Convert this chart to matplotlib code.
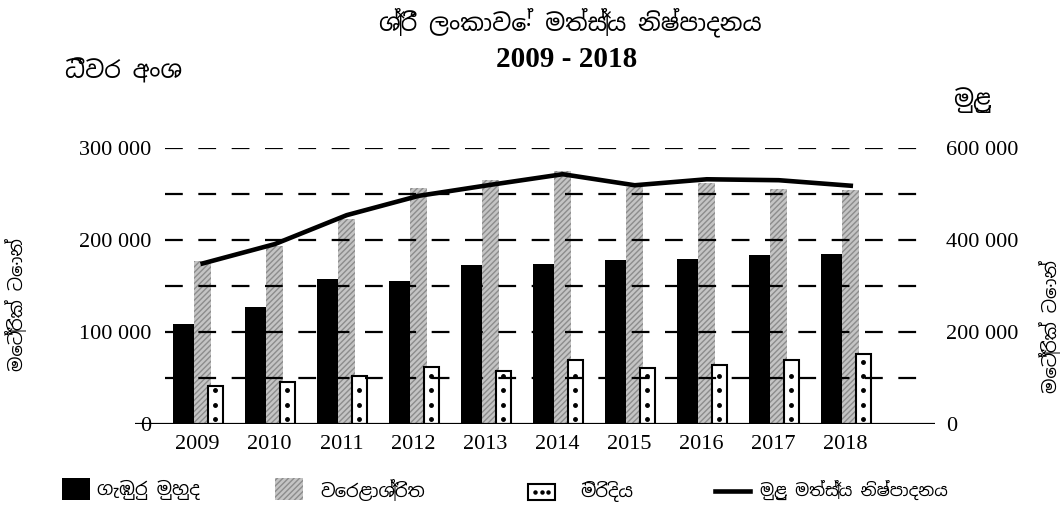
import matplotlib
matplotlib.use("Agg")
import matplotlib.pyplot as plt
from matplotlib.patches import Rectangle
from matplotlib.lines import Line2D
import numpy as np

# දත්ත (මෙට්‍රික් ටොන්)
years = ["2009", "2010", "2011", "2012", "2013", "2014", "2015", "2016", "2017", "2018"]
deep_sea = [109000, 127000, 158000, 155000, 173000, 174000, 178000, 179000, 184000, 185000]
coastal = [177000, 194000, 223000, 257000, 265000, 275000, 258000, 262000, 255000, 254000]
inland = [41000, 46000, 52000, 62000, 58000, 70000, 61000, 64000, 70000, 76000]
total = [349000, 391000, 454000, 496000, 520000, 543000, 519000, 532000, 530000, 518000]

left_ticks = [0, 100000, 200000, 300000]
right_ticks = [0, 200000, 400000, 600000]

SIN = ["Noto Sans Sinhala", "Noto Serif Sinhala", "DejaVu Sans"]
NUM = "Liberation Serif"

fig = plt.figure(figsize=(10.64, 5.07), dpi=100)
W, H = 1064, 507
ax = fig.add_axes([135 / W, 1 - 424 / H, 800 / W, 276 / H])

x = np.arange(len(years))
ax.bar(x - 0.264, deep_sea, width=0.29, color="black", zorder=2)
ax.bar(x, coastal, width=0.236, color="#c4c4c4", edgecolor="#8c8c8c",
       linewidth=0, hatch="//////", zorder=2)
ax.bar(x + 0.174, inland, width=0.21, color="white", edgecolor="black",
       linewidth=1.5, zorder=3)
# මිරිදිය තීරු තුළ තිත්
for xi, v in zip(x, inland):
    dots = np.arange(5500, v - 3000, 15500)
    ax.plot(np.full(len(dots), xi + 0.174), dots, "o", color="black", ms=2.5, zorder=4)

# කඩ ඉරි
for g in range(50000, 300001, 50000):
    ax.hlines(g, -0.52, 10.06, colors="black", linewidth=1.6,
              linestyles=(0, (8, 7)), zorder=3.5)
ax.hlines(0, -0.94, 10.17, colors="black", linewidth=1.6, zorder=5)

ax.set_xlim(-0.94, 10.17)
ax.set_ylim(0, 300000)
for s in ax.spines.values():
    s.set_visible(False)
ax.set_xticks(x - 0.07)
ax.set_xticklabels(years, fontfamily=NUM, fontsize=16)
ax.set_yticks(left_ticks)
ax.set_yticklabels([f"{v:,}".replace(",", " ") for v in left_ticks], fontfamily=NUM, fontsize=16)
ax.tick_params(length=0, axis="y", pad=-12)
ax.tick_params(length=0, axis="x", pad=8)

ax2 = ax.twinx()
ax2.set_ylim(0, 600000)
ax2.plot(x, total, color="black", linewidth=3.3, zorder=6)
for s in ax2.spines.values():
    s.set_visible(False)
ax2.set_yticks(right_ticks)
ax2.set_yticklabels([f"{v:,}".replace(",", " ") for v in right_ticks], fontfamily=NUM, fontsize=16)
ax2.tick_params(length=0, pad=8)

# මාතෘකා
fig.text(570 / W, 1 - 22 / H, "ශ්‍රී ලංකාවේ මත්ස්‍ය නිෂ්පාදනය", family=SIN, fontsize=17,
         ha="center", va="center")
fig.text(567 / W, 1 - 60 / H, "2009 - 2018", family=NUM, fontsize=21, weight="bold",
         ha="center", va="center")
fig.text(65 / W, 1 - 72 / H, "ධීවර අංශ", family=SIN, fontsize=17, ha="left", va="center")
fig.text(972 / W, 1 - 100 / H, "මුළු", family=SIN, fontsize=17, ha="center", va="center")
fig.text(16 / W, 1 - 305 / H, "මෙට්‍රික් ටොන්", family=SIN, fontsize=13, rotation=90,
         ha="center", va="center")
fig.text(1050 / W, 1 - 327 / H, "මෙට්‍රික් ටොන්", family=SIN, fontsize=13, rotation=90,
         ha="center", va="center")

# සංකේත
fig.add_artist(Rectangle((62 / W, 1 - 500 / H), 28 / W, 22 / H, transform=fig.transFigure,
                         facecolor="black"))
fig.add_artist(Rectangle((275 / W, 1 - 500 / H), 28 / W, 22 / H, transform=fig.transFigure,
                         facecolor="#c4c4c4", edgecolor="#8c8c8c", linewidth=0, hatch="//////"))
fig.add_artist(Rectangle((528 / W, 1 - 500 / H), 27 / W, 16 / H, transform=fig.transFigure,
                         facecolor="white", edgecolor="black", linewidth=1.5))
for dx in (535, 541.5, 548):
    fig.add_artist(Line2D([dx / W], [1 - 492 / H], transform=fig.transFigure,
                          marker="o", ms=2.2, color="black"))
fig.add_artist(Line2D([715 / W, 750 / W], [1 - 491 / H, 1 - 491 / H],
                      transform=fig.transFigure, color="black", linewidth=3.3))
fig.text(97 / W, 1 - 490 / H, "ගැඹුරු මුහුද", family=SIN, fontsize=13, va="center")
fig.text(320 / W, 1 - 490 / H, "වෙරළාශ්‍රිත", family=SIN, fontsize=13, va="center")
fig.text(580 / W, 1 - 492 / H, "මිරිදිය", family=SIN, fontsize=13, va="center")
fig.text(760 / W, 1 - 490 / H, "මුළු මත්ස්‍ය නිෂ්පාදනය", family=SIN, fontsize=12, va="center")

fig.savefig("out.png", dpi=100, facecolor="white")
